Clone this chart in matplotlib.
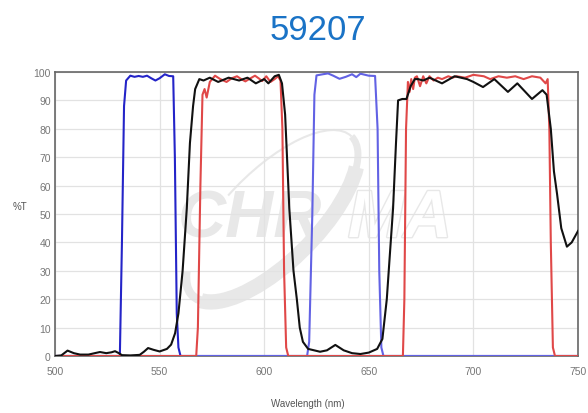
"""
Transmission curves for filter set 59207 (recreated from the Chroma chart)
"""
import numpy as np
import matplotlib.pyplot as plt
import matplotlib.patheffects as pe
from matplotlib.patches import Arc

plt.rcParams['font.family'] = ['Liberation Sans', 'DejaVu Sans']

## curves: wavelength (nm) and %T
exc1_wl = [500, 531, 532, 533, 534, 536, 538, 540, 542, 544, 546, 548, 550, 552.5, 554.5, 556.5, 557.3, 558.2, 559, 560, 750]
exc1_t = [0, 0, 40, 88, 97, 98.7, 98.3, 98.6, 98.3, 98.7, 97.8, 97, 97.8, 99.2, 98.6, 98.5, 70, 15, 3, 0, 0]

exc2_wl = [500, 620.5, 621.5, 623, 624, 625, 628, 630.5, 633, 636, 639, 642, 644, 646, 650, 653, 654.2, 655, 656, 657, 750]
exc2_t = [0, 0, 5, 50, 92, 98.8, 99.2, 99.5, 98.7, 97.6, 98.3, 99.2, 98.2, 99.4, 98.7, 98.6, 80, 30, 3, 0, 0]

em_wl = [500, 567.5, 568.3, 569.5, 570.5, 571.5, 572.5, 574, 576.5, 579, 582, 584.5, 587, 589, 591, 593, 595.6, 597.5, 599, 601,
         603, 605, 606.6, 607.8, 608.7, 609.5, 610.5, 611.5, 666.3, 667, 667.8, 668.7, 669.5, 670.3, 671.2, 672, 673, 674.5, 676,
         677.5, 679, 681, 683, 685, 688, 690, 692, 696, 700, 705, 708, 712, 716, 720, 724, 728, 732, 734.5, 735.5, 736.3,
         737, 738, 739, 750]
em_t = [0, 0, 10, 60, 92, 94, 91, 96.5, 98.7, 97.5, 96.5, 97.8, 98.5, 97.5, 96.7, 97.6, 98.7, 97.7, 96.8, 98.5,
        96.5, 97.5, 98.5, 97, 80, 30, 3, 0, 0, 20, 80, 96.5, 93, 97.5, 94, 98, 98.5, 95, 98.5,
        96, 98.5, 97, 98, 97.5, 98.5, 98, 98.5, 98, 99, 98.5, 97.5, 98.5, 98, 98.5, 97.5, 98.5, 98, 96, 97.5, 80,
        40, 3, 0, 0]

dic_wl = [500, 503, 506, 509, 512, 516, 519, 521.5, 524.5, 527, 528.7, 530.5, 532, 536, 540.5, 542.5, 544.5, 547, 550, 553.5,
          555.5, 557.4, 559, 561, 563, 564.5, 566, 567, 569, 571, 574, 578, 583, 588, 592, 596, 600, 602,
          605, 607, 608.5, 610, 612, 614, 615.6, 617, 618.5, 621, 626.7, 630, 634, 638, 642, 646, 650, 654, 656.5,
          658.6, 660, 661.6, 663, 664, 666, 668, 670, 672, 673.5, 676, 679, 685, 691, 697, 700, 704.6, 710,
          716.5, 721, 728, 733, 735, 737, 738.5, 740, 742, 744.7, 747, 750]
dic_t = [0, 0.2, 1.9, 1, 0.5, 0.5, 1, 1.4, 1, 1.3, 1.7, 1, 0.3, 0.2, 0.4, 1.5, 2.8, 2.2, 1.6, 2.5,
         4, 8, 15, 30, 52, 75, 88, 94, 97.5, 97, 98, 96.5, 98, 97, 98, 96, 97.5, 96,
         98.5, 99, 96, 85, 52, 30, 20, 10, 5, 2.5, 1.5, 2, 3.9, 2, 1, 0.7, 1.2, 2.5, 6,
         20, 35, 52, 75, 90, 90.5, 90.5, 95, 97.5, 97.5, 97, 98, 96, 98.5, 97.5, 96.5, 94.7, 97.5,
         93, 96, 90.5, 93.6, 92, 80, 65, 57, 45, 38.5, 40, 44]

xticks = [500, 550, 600, 650, 700, 750]
yticks = list(range(0, 101, 10))

fig = plt.figure(figsize=(5.88, 4.14), dpi=100)

# watermark layer in pixel coordinates, behind the plot
bg = fig.add_axes([0, 0, 1, 1], zorder=0)
bg.set_xlim(0, 588)
bg.set_ylim(414, 0)
bg.axis('off')
wm = '#e8e8e8'
bg.text(178, 221, 'CHR', ha='left', va='center', fontsize=48, fontweight='bold',
        fontstyle='italic', color=wm)
bg.text(348, 221, 'MA', ha='left', va='center', fontsize=48, fontweight='bold',
        fontstyle='italic', color='white',
        path_effects=[pe.withStroke(linewidth=2, foreground=wm)])
bg.add_patch(Arc((272, 217), 225, 92, angle=-45, theta1=15, theta2=175, color=wm, lw=11))
bg.add_patch(Arc((272, 217), 225, 92, angle=-45, theta1=0, theta2=20, color=wm, lw=5))
bg.add_patch(Arc((272, 217), 225, 92, angle=-45, theta1=170, theta2=192, color=wm, lw=6))
bg.add_patch(Arc((272, 217), 225, 92, angle=-45, theta1=250, theta2=360, color=wm, lw=1.5))

ax = fig.add_axes([55 / 588, 1 - 357 / 414, 523 / 588, 284 / 414], zorder=1)
ax.patch.set_alpha(0)

ax.plot(exc1_wl, exc1_t, color='#2424c8', lw=1.5, zorder=3)
ax.plot(exc2_wl, exc2_t, color='#6262e4', lw=1.5, zorder=3)
ax.plot(em_wl, em_t, color='#e04848', lw=1.5, zorder=4)
ax.plot(dic_wl, dic_t, color='#111111', lw=1.5, zorder=5)

ax.set_xlim(500, 750)
ax.set_ylim(0, 100)
ax.set_xticks(xticks)
ax.set_yticks(yticks)
ax.grid(color='#e2e2e2', lw=0.9)
ax.set_axisbelow(True)
ax.tick_params(length=0, labelsize=7.5, labelcolor='#777777')
ax.tick_params(axis='x', pad=7)
ax.tick_params(axis='y', pad=3)
for s in ax.spines.values():
    s.set_color('#666666')
    s.set_linewidth(1.2)

fig.text(318 / 588, 1 - 30 / 414, '59207', ha='center', va='center', fontsize=25, color='#1a73c6')
fig.text(20 / 588, 1 - 207 / 414, '%T', ha='center', va='center', fontsize=7, color='#555555')
fig.text(308 / 588, 1 - 404 / 414, 'Wavelength (nm)', ha='center', va='center', fontsize=7, color='#555555')

plt.savefig('out.png', dpi=100)
